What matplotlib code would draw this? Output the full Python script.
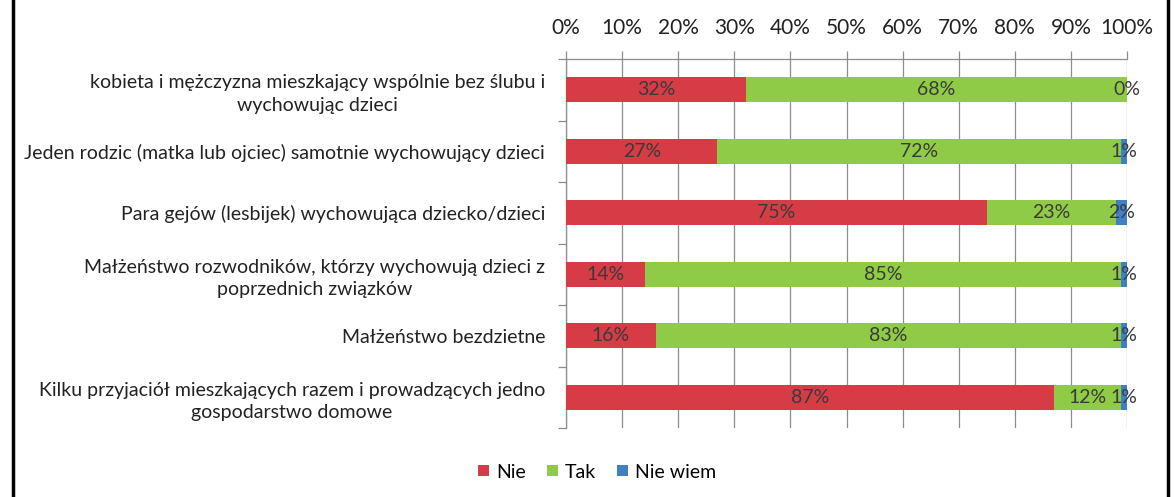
import matplotlib
matplotlib.use("Agg")
import matplotlib.pyplot as plt
from matplotlib.lines import Line2D
from matplotlib.patches import Patch
import numpy as np

categories = [
    "kobieta i mężczyzna mieszkający wspólnie bez ślubu i\nwychowując dzieci",
    "Jeden rodzic (matka lub ojciec) samotnie wychowujący dzieci",
    "Para gejów (lesbijek) wychowująca dziecko/dzieci",
    "Małżeństwo rozwodników, którzy wychowują dzieci z\npoprzednich związków",
    "Małżeństwo bezdzietne",
    "Kilku przyjaciół mieszkających razem i prowadzących jedno\ngospodarstwo domowe",
]
nie = [32, 27, 75, 14, 16, 87]
tak = [68, 72, 23, 85, 83, 12]
nie_wiem = [0, 1, 2, 1, 1, 1]
series_names = ["Nie", "Tak", "Nie wiem"]
colors = ["#d63c46", "#8fcb46", "#3f7fc4"]
xticks = list(range(0, 101, 10))

plt.rcParams["font.family"] = ["Lato", "DejaVu Sans"]

fig = plt.figure(figsize=(11.74, 4.97), dpi=100)
ax = fig.add_axes([566 / 1174, 1 - 428 / 497, 561 / 1174, 369 / 497])

y = np.arange(len(categories))
left = np.zeros(len(categories))
for vals, name, col in zip([nie, tak, nie_wiem], series_names, colors):
    vals = np.array(vals, dtype=float)
    ax.barh(y, vals, left=left, height=0.4, color=col, label=name, zorder=3)
    for yi, l, v in zip(y, left, vals):
        ax.text(l + v / 2, yi, f"{int(v)}%", ha="center", va="center",
                fontsize=14, color="#3a3a3a", zorder=4)
    left += vals

ax.set_xlim(0, 100)
ax.set_ylim(len(categories) - 0.5, -0.5)
ax.xaxis.tick_top()
ax.set_xticks(xticks)
ax.set_xticklabels([f"{t}%" for t in xticks], fontsize=15, color="#222222")
ax.tick_params(axis="x", length=6, width=0.9, color="#8c8c8c", pad=9)
ax.grid(axis="x", color="#8c8c8c", linewidth=0.9, zorder=0)

ax.set_yticks(y)
ax.set_yticklabels(categories, fontsize=14, color="#222222",
                   multialignment="center")
for t in ax.get_yticklabels():
    t.set_linespacing(1.4)
ax.tick_params(axis="y", length=0, pad=15)
ax.set_yticks(np.arange(-0.5, len(categories)), minor=True)
ax.tick_params(axis="y", which="minor", length=6, width=0.9, color="#8c8c8c")

for s in ["bottom", "right"]:
    ax.spines[s].set_visible(False)
for s in ["top", "left"]:
    ax.spines[s].set_color("#8c8c8c")
    ax.spines[s].set_linewidth(0.9)

handles = [Patch(facecolor=c, label=n) for c, n in zip(colors, series_names)]
fig.legend(handles=handles, loc="center", bbox_to_anchor=(597 / 1174, 1 - 472 / 497),
           ncol=3, frameon=False, fontsize=14, handlelength=0.55, handleheight=0.55,
           handletextpad=0.35, columnspacing=1.1)

# black side borders of the original framed picture
for xp in [13 / 1174, 1168 / 1174]:
    fig.add_artist(Line2D([xp, xp], [0, 1], color="black", linewidth=2.5,
                          transform=fig.transFigure))

fig.savefig("out.png", dpi=100, facecolor="white")
